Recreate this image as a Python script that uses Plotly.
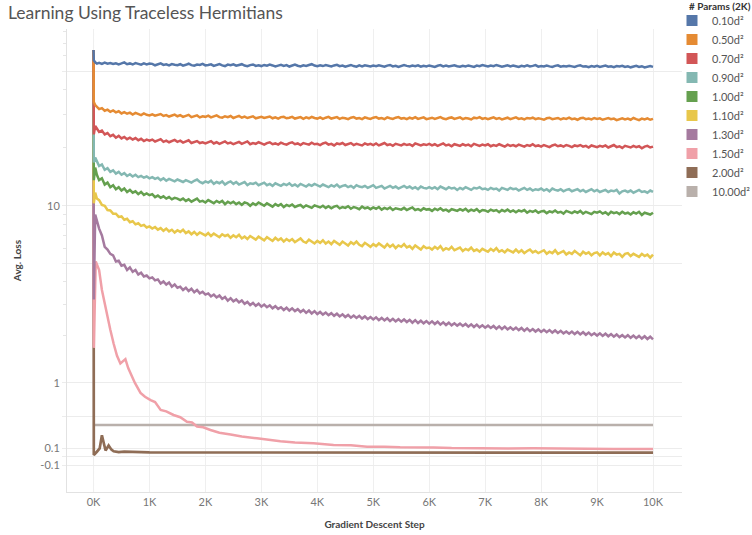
import numpy as np
import plotly.graph_objects as go

# ---------------- data ----------------
STEPS = [0, 5, 30, 60] + list(range(100, 10001, 50))

LOSS_010 = [64.4, 57.0, 55.6, 54.8, 55.3, 54.6, 55.4, 54.7, 55.2, 54.5, 55.0, 54.3, 54.9, 55.6, 54.4,
            54.9, 54.2, 55.1, 54.6, 54.1, 54.9, 54.3, 54.8,
            54.6, 53.7, 54.1, 54.9, 53.9, 54.3, 53.6, 54.5, 54.0, 53.8,
            54.4, 53.5, 54.0, 54.7, 53.8, 53.4, 54.2, 53.9, 54.6, 53.6,
            53.9, 54.3, 53.3, 53.8, 54.5, 53.6, 53.2, 54.1, 53.7, 54.3,
            53.4, 53.9, 54.4, 53.5, 53.1, 53.8, 54.2, 53.3, 53.7, 53.2,
            53.9, 53.4, 54.1, 53.6, 53.0, 53.5, 54.0, 53.3, 53.8, 52.9,
            53.6, 54.2, 53.4, 53.0, 53.7, 53.3, 53.9, 54.4, 53.5, 53.1,
            53.7, 53.2, 53.8, 53.4, 52.9, 53.6, 54.0, 53.1, 53.5, 52.8,
            53.4, 53.9, 53.2, 52.8, 53.6, 53.0, 53.7, 53.3, 52.9, 53.5,
            53.1, 53.7, 53.3, 52.8, 53.5, 53.9, 53.0, 53.4, 52.7, 53.2,
            53.8, 53.3, 52.9, 53.5, 53.1, 53.7, 52.8, 53.4, 53.0, 53.6,
            53.2, 52.7, 53.4, 53.8, 53.0, 53.5, 52.9, 53.3, 53.7, 53.1,
            52.8, 53.4, 53.0, 53.6, 53.2, 52.7, 53.5, 53.1, 53.8, 53.3,
            52.9, 53.5, 53.1, 53.9, 53.4, 52.8, 53.2, 53.7, 53.0, 53.5,
            53.1, 52.7, 53.4, 53.0, 53.6, 52.9, 53.3, 53.8, 52.8, 53.2,
            52.9, 53.5, 53.0, 52.6, 53.3, 53.7, 52.8, 53.2, 52.9, 53.4,
            53.0, 52.6, 53.3, 53.7, 52.9, 53.1, 52.5, 53.2, 52.8, 53.4,
            52.7, 53.1, 53.5, 52.8, 53.0, 52.5, 53.2, 52.9, 53.4, 52.6,
            53.0, 52.4, 52.9, 53.3, 52.6, 53.1, 52.3, 52.8, 53.2, 52.7]

LOSS_050 = [64.4, 34.6, 33.4, 32.8, 31.8, 32.2, 31.2, 31.6, 30.8, 31.3, 30.6, 31.0, 30.2, 30.7, 30.1,
            30.5, 29.8, 30.4, 29.9, 29.6, 30.2, 29.7, 29.5,
            29.9, 29.4, 29.7, 30.0, 29.3, 29.6, 29.1, 29.5, 29.8, 29.2,
            29.6, 29.0, 29.4, 29.7, 28.9, 29.3, 29.5, 28.8, 29.2, 29.0,
            29.4, 28.8, 29.1, 29.5, 28.9, 28.7, 29.2, 28.9, 29.3, 28.6,
            29.0, 29.3, 28.7, 29.1, 28.6, 28.9, 29.2, 28.5, 28.8, 29.0,
            28.6, 28.9, 29.1, 28.5, 28.8, 28.4, 28.9, 29.0, 28.5, 28.7,
            29.0, 28.4, 28.7, 28.9, 28.3, 28.8, 28.5, 29.0, 28.6, 28.4,
            28.8, 28.3, 28.7, 29.0, 28.4, 28.6, 28.9, 28.3, 28.7, 28.5,
            28.2, 28.7, 28.9, 28.4, 28.6, 28.2, 28.8, 28.5, 28.3, 28.7,
            28.9, 28.4, 28.6, 28.2, 28.8, 28.5, 28.3, 28.7, 28.9, 28.4,
            28.6, 28.2, 28.7, 28.4, 28.9, 28.3, 28.6, 28.8, 28.2, 28.5,
            28.7, 28.3, 28.5, 28.9, 28.4, 28.2, 28.6, 28.8, 28.3, 28.5,
            28.8, 28.2, 28.6, 28.4, 28.1, 28.7, 28.5, 28.9, 28.3, 28.6,
            28.2, 28.5, 28.8, 28.3, 28.6, 28.1, 28.4, 28.7, 28.2, 28.5,
            28.8, 28.3, 28.5, 28.1, 28.6, 28.4, 28.7, 28.2, 28.5, 28.3,
            28.0, 28.5, 28.7, 28.2, 28.4, 28.6, 28.1, 28.5, 28.3, 28.7,
            28.2, 28.4, 28.0, 28.5, 28.7, 28.2, 28.4, 28.1, 28.6, 28.3,
            28.5, 28.0, 28.3, 28.6, 28.2, 28.4, 27.9, 28.3, 28.5, 28.1,
            28.4, 28.0, 28.6, 28.2, 27.9, 28.4, 28.1, 28.5, 28.0, 28.3]

LOSS_070 = [64.4, 23.5, 26.0, 25.1, 24.2, 24.6, 23.5, 23.9, 23.0, 23.4, 22.6, 23.1, 22.4, 22.8, 22.2,
            22.6, 22.1, 22.5, 21.9, 22.3, 21.7, 22.1, 21.8,
            22.1, 21.6, 21.9, 22.2, 21.5, 21.8, 21.4, 21.7, 22.0, 21.5,
            21.8, 21.3, 21.6, 21.9, 21.2, 21.5, 21.7, 21.2, 21.4, 21.1,
            21.5, 21.7, 21.1, 21.4, 21.0, 21.3, 21.6, 21.1, 21.3, 20.9,
            21.2, 21.5, 21.0, 21.3, 21.6, 20.9, 21.2, 21.0, 21.4, 21.1,
            20.8, 21.2, 21.4, 20.9, 21.1, 20.8, 21.3, 21.0, 20.8, 21.2,
            21.4, 20.9, 21.1, 20.7, 21.2, 21.0, 20.8, 21.3, 20.9, 21.0,
            20.7, 21.1, 21.3, 20.8, 21.0, 20.6, 21.1, 20.9, 21.2, 20.7,
            20.9, 21.2, 20.7, 21.0, 20.8, 20.6, 21.1, 20.8, 21.0, 20.7,
            21.1, 20.6, 20.9, 21.2, 20.7, 20.9, 20.5, 21.0, 20.8, 20.6,
            21.0, 20.7, 20.9, 20.5, 21.1, 20.8, 20.6, 20.9, 20.7, 21.0,
            20.6, 20.9, 20.5, 20.8, 21.1, 20.6, 20.8, 20.4, 20.9, 20.7,
            20.5, 20.9, 20.6, 20.8, 20.4, 21.0, 20.7, 20.5, 20.8, 20.6,
            20.9, 20.4, 20.7, 20.5, 20.9, 20.6, 20.3, 20.8, 20.5, 20.7,
            20.4, 20.8, 20.6, 20.3, 20.7, 20.5, 20.9, 20.4, 20.6, 20.3,
            20.7, 20.5, 20.2, 20.6, 20.8, 20.4, 20.6, 20.3, 20.7, 20.5,
            20.2, 20.6, 20.4, 20.7, 20.3, 20.5, 20.1, 20.6, 20.4, 20.2,
            20.5, 20.3, 20.6, 20.1, 20.4, 20.7, 20.2, 20.4, 20.0, 20.5,
            20.3, 20.1, 20.5, 20.2, 20.4, 19.9, 20.3, 20.5, 20.1, 20.3]

LOSS_090 = [64.4, 16.8, 17.8, 17.0, 16.1, 16.4, 15.4, 15.7, 15.0, 15.3, 14.7, 15.0, 14.5, 14.8, 14.3,
            14.6, 14.2, 14.5, 14.1, 14.3, 14.0, 14.2, 13.9,
            14.1, 13.8, 14.0, 13.6, 13.9, 13.5, 13.8, 13.6, 13.4, 13.7,
            13.5, 13.3, 13.6, 13.4, 13.2, 13.5, 13.7, 13.3, 13.1, 13.4,
            13.2, 13.5, 13.0, 13.3, 13.1, 13.4, 12.9, 13.2, 13.4, 13.0,
            13.3, 12.9, 13.1, 13.3, 12.8, 13.1, 13.0, 13.2, 12.8, 13.0,
            13.2, 12.8, 13.0, 12.7, 13.1, 12.9, 12.7, 13.0, 12.8, 13.1,
            12.7, 12.9, 12.6, 13.0, 12.8, 12.6, 12.9, 12.7, 13.0, 12.8,
            12.6, 12.9, 12.7, 12.5, 12.8, 12.6, 12.9, 12.5, 12.7, 12.8,
            12.5, 12.7, 12.4, 12.8, 12.6, 12.5, 12.7, 12.4, 12.6, 12.8,
            12.4, 12.6, 12.7, 12.3, 12.5, 12.7, 12.4, 12.6, 12.3, 12.5,
            12.7, 12.4, 12.6, 12.3, 12.5, 12.2, 12.6, 12.4, 12.3, 12.5,
            12.3, 12.5, 12.2, 12.6, 12.4, 12.2, 12.5, 12.3, 12.4, 12.1,
            12.4, 12.2, 12.5, 12.3, 12.1, 12.4, 12.3, 12.5, 12.2, 12.3,
            12.1, 12.4, 12.2, 12.3, 12.0, 12.4, 12.2, 12.1, 12.4, 12.2,
            12.3, 12.0, 12.2, 12.4, 12.1, 12.3, 12.0, 12.2, 12.1, 12.3,
            12.0, 12.2, 11.9, 12.3, 12.1, 12.0, 12.2, 11.9, 12.1, 12.2,
            11.9, 12.1, 12.2, 11.9, 12.1, 11.8, 12.0, 12.2, 11.9, 12.1,
            11.8, 12.0, 12.1, 11.8, 12.0, 11.9, 12.1, 11.6, 11.9, 12.0,
            11.8, 12.0, 11.7, 11.9, 12.1, 11.8, 11.9, 11.7, 12.0, 11.8]

LOSS_100 = [64.4, 13.6, 15.8, 14.5, 13.6, 13.9, 12.9, 13.2, 12.5, 12.8, 12.2, 12.5, 12.0, 12.3, 11.8,
            12.1, 11.7, 11.9, 11.5, 11.8, 11.4, 11.6, 11.35,
            11.5, 11.1, 11.3, 11.0, 11.2, 10.9, 11.1, 10.8, 11.0, 10.9,
            10.7, 10.9, 10.6, 10.8, 10.5, 10.7, 10.9, 10.5, 10.6, 10.4,
            10.7, 10.5, 10.3, 10.6, 10.4, 10.6, 10.2, 10.5, 10.3, 10.5,
            10.2, 10.4, 10.1, 10.4, 10.3, 10.0, 10.3, 10.1, 10.4, 10.2,
            10.0, 10.3, 10.1, 9.9, 10.2, 10.0, 10.2, 9.85, 10.1, 9.95,
            10.15, 9.85, 10.0, 10.1, 9.8, 10.05, 9.9, 9.75, 10.05, 9.95,
            9.8, 10.0, 9.75, 9.95, 9.7, 9.9, 10.0, 9.7, 9.85, 9.75,
            9.95, 9.65, 9.85, 9.75, 9.6, 9.9, 9.7, 9.8, 9.6, 9.8,
            9.65, 9.85, 9.55, 9.75, 9.6, 9.8, 9.5, 9.7, 9.65, 9.55,
            9.75, 9.5, 9.65, 9.8, 9.5, 9.6, 9.45, 9.7, 9.55, 9.6,
            9.4, 9.65, 9.5, 9.7, 9.45, 9.55, 9.35, 9.6, 9.5, 9.4,
            9.6, 9.45, 9.65, 9.35, 9.55, 9.4, 9.6, 9.3, 9.5, 9.45,
            9.3, 9.55, 9.4, 9.5, 9.25, 9.5, 9.35, 9.55, 9.3, 9.45,
            9.25, 9.45, 9.35, 9.5, 9.2, 9.4, 9.3, 9.45, 9.2, 9.35,
            9.4, 9.15, 9.35, 9.25, 9.45, 9.2, 9.3, 9.1, 9.4, 9.25,
            9.15, 9.35, 9.2, 9.4, 9.1, 9.3, 9.2, 9.05, 9.3, 9.2,
            9.35, 9.1, 9.25, 9.0, 9.3, 9.15, 9.25, 9.05, 9.3, 9.1,
            9.2, 9.0, 9.25, 9.1, 9.3, 8.95, 9.2, 9.1, 9.0, 9.2]

LOSS_110 = [64.4, 10.3, 11.7, 10.9, 10.7, 10.1, 10.0, 9.5, 9.45, 9.1, 9.1, 8.75, 8.8, 8.45, 8.55,
            8.2, 8.3, 8.0, 8.1, 7.85, 7.95, 7.7, 7.8,
            7.6, 7.75, 7.5, 7.65, 7.4, 7.6, 7.35, 7.5, 7.25, 7.45,
            7.3, 7.5, 7.2, 7.35, 7.1, 7.3, 7.05, 7.25, 7.15, 7.0,
            7.2, 6.95, 7.15, 7.0, 6.85, 7.1, 6.95, 7.05, 6.8, 7.0,
            6.85, 7.05, 6.75, 6.9, 6.7, 6.95, 6.8, 6.65, 6.9, 6.75,
            6.6, 6.85, 6.7, 6.55, 6.8, 6.6, 6.75, 6.5, 6.7, 6.55,
            6.7, 6.45, 6.6, 6.75, 6.5, 6.4, 6.65, 6.5, 6.35, 6.55,
            6.4, 6.6, 6.35, 6.5, 6.3, 6.55, 6.4, 6.25, 6.5, 6.35,
            6.2, 6.45, 6.3, 6.5, 6.25, 6.15, 6.4, 6.25, 6.1, 6.3,
            6.15, 6.35, 6.2, 6.05, 6.3, 6.1, 6.25, 6.0, 6.2, 6.1,
            6.3, 6.05, 6.15, 5.95, 6.2, 6.05, 5.9, 6.15, 6.0, 6.05,
            5.9, 6.1, 5.95, 6.15, 5.85, 6.0, 5.9, 6.1, 5.85, 5.95,
            6.05, 5.8, 5.95, 5.85, 6.05, 5.8, 5.9, 5.75, 5.95, 5.85,
            5.75, 5.95, 5.8, 6.0, 5.75, 5.85, 5.7, 5.9, 5.8, 5.7,
            5.9, 5.7, 5.85, 5.65, 5.8, 5.9, 5.7, 5.8, 5.65, 5.75,
            5.85, 5.6, 5.75, 5.65, 5.85, 5.6, 5.7, 5.8, 5.55, 5.7,
            5.6, 5.8, 5.65, 5.5, 5.75, 5.6, 5.7, 5.5, 5.65, 5.7,
            5.5, 5.7, 5.55, 5.65, 5.45, 5.7, 5.55, 5.6, 5.4, 5.6,
            5.65, 5.45, 5.6, 5.5, 5.4, 5.6, 5.45, 5.55, 5.35, 5.55]

LOSS_130 = [64.4, 3.2, 9.0, 8.3, 7.6, 7.0, 6.1, 5.9, 5.6, 5.5, 5.1, 5.15, 4.85, 4.9, 4.6,
            4.75, 4.5, 4.6, 4.35, 4.45, 4.25, 4.3, 4.15,
            4.2, 4.05, 4.1, 3.9, 4.0, 3.85, 3.95, 3.75, 3.85, 3.7,
            3.75, 3.6, 3.7, 3.55, 3.65, 3.5, 3.6, 3.45, 3.52, 3.4,
            3.45, 3.32, 3.4, 3.28, 3.36, 3.22, 3.3, 3.15, 3.25, 3.12,
            3.2, 3.08, 3.16, 3.03, 3.1, 2.98, 3.06, 2.95, 3.03, 2.92,
            3.0, 2.9, 2.97, 2.86, 2.94, 2.84, 2.9, 2.8, 2.88, 2.78,
            2.86, 2.76, 2.83, 2.73, 2.8, 2.7, 2.78, 2.68, 2.76, 2.66,
            2.73, 2.64, 2.71, 2.62, 2.69, 2.6, 2.67, 2.58, 2.65, 2.56,
            2.63, 2.54, 2.61, 2.53, 2.6, 2.51, 2.58, 2.49, 2.56, 2.48,
            2.55, 2.46, 2.53, 2.45, 2.52, 2.43, 2.5, 2.42, 2.49, 2.41,
            2.48, 2.4, 2.47, 2.38, 2.46, 2.37, 2.44, 2.36, 2.43, 2.35,
            2.42, 2.34, 2.41, 2.32, 2.39, 2.31, 2.38, 2.3, 2.36, 2.29,
            2.35, 2.28, 2.34, 2.26, 2.33, 2.25, 2.32, 2.24, 2.3, 2.23,
            2.29, 2.22, 2.28, 2.2, 2.27, 2.19, 2.26, 2.18, 2.24, 2.17,
            2.23, 2.16, 2.22, 2.14, 2.21, 2.13, 2.19, 2.12, 2.18, 2.11,
            2.17, 2.1, 2.16, 2.09, 2.15, 2.08, 2.14, 2.07, 2.12, 2.06,
            2.12, 2.05, 2.11, 2.04, 2.1, 2.03, 2.09, 2.02, 2.07, 2.01,
            2.07, 2.0, 2.06, 1.99, 2.05, 1.98, 2.04, 1.97, 2.02, 1.96,
            2.02, 1.95, 2.01, 1.94, 2.0, 1.93, 1.99, 1.92, 1.98, 1.91]

PINK_STEPS = [0, 5, 40, 100, 150, 210, 260, 300, 360, 420, 480, 570, 620, 660, 740, 840, 920,
              1020, 1100, 1200, 1300, 1430, 1550, 1670, 1760, 1850, 1960, 2090, 2250, 2450,
              2650, 2920, 3150, 3340, 3600, 3930, 4290, 4600, 4890, 5200, 5480, 5800, 6080,
              6400, 6680, 7000, 7400, 7860, 8300, 8800, 9300, 10000]
LOSS_150 = [64.4, 1.7, 5.1, 4.6, 3.6, 2.92, 2.5, 2.17, 1.80, 1.52, 1.36, 1.45, 1.27, 1.17, 1.0,
            0.84, 0.78, 0.73, 0.70, 0.59, 0.57, 0.52, 0.49, 0.43, 0.42, 0.37, 0.36, 0.325,
            0.29, 0.27, 0.245, 0.222, 0.198, 0.185, 0.17, 0.163, 0.141, 0.137, 0.12, 0.121,
            0.113, 0.114, 0.112, 0.105, 0.101, 0.102, 0.099, 0.101, 0.097, 0.096, 0.094, 0.093]

BROWN_STEPS = [0, 5, 60, 110, 150, 190, 215, 270, 320, 360, 450, 550, 650, 800, 1000,
               3000, 6000, 10000]
LOSS_200 = [64.4, 0.02, 0.06, 0.10, 0.26, 0.12, 0.075, 0.135, 0.085, 0.065, 0.055, 0.062,
            0.058, 0.053, 0.052, 0.051, 0.050, 0.050]

GRAY_STEPS = [0, 10000]
LOSS_1000 = [0.388, 0.388]

SERIES_LABELS = ["0.10d²", "0.50d²", "0.70d²", "0.90d²", "1.00d²",
                 "1.10d²", "1.30d²", "1.50d²", "2.00d²", "10.00d²"]
LEGEND_TITLE = "# Params (2K)"

Y_TICK_VALUES = [50, 10, 5, 1, 0.5, 0.1, 0, -0.1]
Y_TICK_LABELS = ["", "10", "", "1", "", "0.1", "", "-0.1"]
Y_MINOR_VALUES = [2, 3, 4, 6, 7, 8, 9, 20, 30, 40, 60, 70, 80]
X_TICK_VALUES = [0, 1000, 2000, 3000, 4000, 5000, 6000, 7000, 8000, 9000, 10000]
X_TICK_LABELS = ["0K", "1K", "2K", "3K", "4K", "5K", "6K", "7K", "8K", "9K", "10K"]

# ---------------- styling ----------------
COLORS = ["#5577a9", "#e58b33", "#d25657", "#84b8b2", "#65a04f",
          "#e8c74b", "#a57a9f", "#f0a0a8", "#8f6d56", "#b9b0ab"]
WIDTHS = [2.5, 2.5, 2.5, 2.5, 2.5, 2.5, 2.5, 2.5, 2.7, 2.5]

series_x = [STEPS] * 7 + [PINK_STEPS, BROWN_STEPS, GRAY_STEPS]
series_y = [LOSS_010, LOSS_050, LOSS_070, LOSS_090, LOSS_100, LOSS_110, LOSS_130,
            LOSS_150, LOSS_200, LOSS_1000]
for xs, ys in zip(series_x, series_y):
    assert len(xs) == len(ys), (len(xs), len(ys))


def sym(v):
    """symmetric-log style transform used by the reference axis"""
    return np.arcsinh(np.asarray(v, dtype=float))


FONT = "Lato, 'Open Sans', sans-serif"
fig = go.Figure()

# legend entries (square swatches)
for label, color in zip(SERIES_LABELS, COLORS):
    fig.add_trace(go.Scatter(x=[None], y=[None], mode="markers", name=label,
                             marker=dict(symbol="square", size=11, color=color),
                             hoverinfo="skip", showlegend=True))

# lines, first legend entry drawn on top
for xs, ys, color, w, label in reversed(list(zip(series_x, series_y, COLORS, WIDTHS, SERIES_LABELS))):
    fig.add_trace(go.Scatter(x=xs, y=sym(ys), mode="lines", name=label,
                             line=dict(color=color, width=w), showlegend=False))

fig.add_shape(type="line", xref="x", yref="paper", x0=0, x1=0, y0=0, y1=1,
              line=dict(color="#bdbdbd", width=1, dash="dot"), layer="below")

fig.add_annotation(text=LEGEND_TITLE, xref="paper", yref="paper",
                   x=(687 - 67) / 615, y=(492 - 6) / 463, xanchor="left", yanchor="middle",
                   showarrow=False, font=dict(family=FONT, size=10, color="#333333", weight="bold"))

fig.update_layout(
    width=752, height=535,
    margin=dict(l=67, r=70, t=29, b=43, autoexpand=False),
    paper_bgcolor="white", plot_bgcolor="white",
    font=dict(family=FONT, color="#666666", size=11),
    title=dict(text="Learning Using Traceless Hermitians", xref="container", yref="container",
               x=8 / 752, xanchor="left", y=1 - 13 / 535, yanchor="middle",
               font=dict(family=FONT, size=17.5, color="#555555")),
    legend=dict(xref="container", yref="container", x=672 / 752, xanchor="left",
                y=1 - 6 / 535, yanchor="top",
                bgcolor="rgba(0,0,0,0)", traceorder="normal",
                font=dict(family=FONT, size=11, color="#555555"),
                itemclick=False, tracegroupgap=0),
    xaxis=dict(range=[-474, 10518], tickmode="array", tickvals=X_TICK_VALUES, ticktext=X_TICK_LABELS,
               showgrid=True, gridcolor="#efefef", gridwidth=1, zeroline=False, automargin=False,
               showline=True, linecolor="#e2e2e2", linewidth=1, ticks="",
               tickfont=dict(size=11, color="#777777"),
               title=dict(text="Gradient Descent Step", standoff=13,
                          font=dict(family=FONT, size=10, color="#444444", weight="bold"))),
    yaxis=dict(range=[-0.421, 5.110], tickmode="array", tickvals=sym(Y_TICK_VALUES), ticktext=Y_TICK_LABELS,
               showgrid=True, gridcolor="#ececec", gridwidth=1, zeroline=False, automargin=False,
               showline=True, linecolor="#e2e2e2", linewidth=1,
               ticks="outside", ticklen=4, tickcolor="#ececec",
               minor=dict(tickmode="array", tickvals=sym(Y_MINOR_VALUES), ticks="outside",
                          ticklen=3, tickcolor="#e6e6e6", showgrid=False),
               tickfont=dict(size=11, color="#777777"),
               title=dict(text="Avg. Loss", standoff=16,
                          font=dict(family=FONT, size=10, color="#444444", weight="bold"))),
)

fig.write_html("out.html", config={"displayModeBar": False},
               post_script="document.body.style.margin='0';")
